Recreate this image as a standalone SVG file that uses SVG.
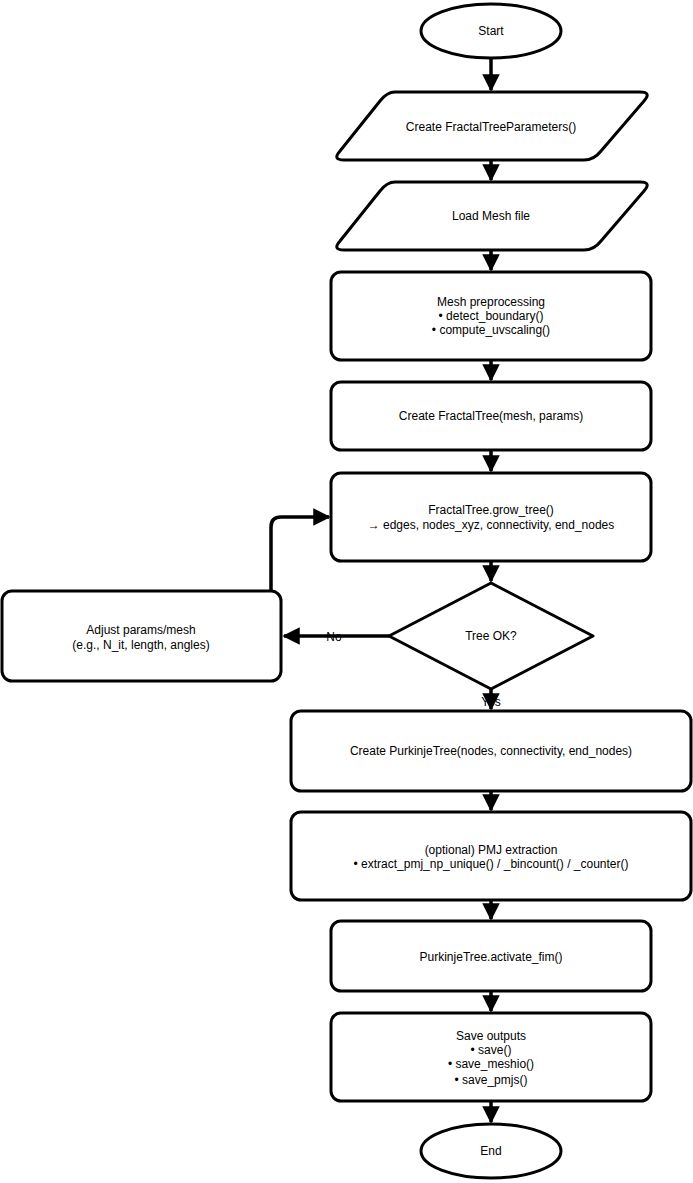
<svg xmlns="http://www.w3.org/2000/svg" width="693" height="1183" viewBox="0 0 693 1183">
<style>
.n{fill:#fff;stroke:#000;stroke-width:3;stroke-linejoin:round}
.t{font-family:"Liberation Sans",Arial,sans-serif;font-size:12px;text-anchor:middle;fill:#000}
.c{fill:none;stroke:#000;stroke-width:3.5}
</style>
<defs><marker id="a" markerWidth="5" markerHeight="5" refX="4.5" refY="2.5" orient="auto" markerUnits="strokeWidth" viewBox="0 0 5 5"><path d="M0,0L5,2.5L0,5z" fill="#000"/></marker></defs>
<rect width="693" height="1183" fill="#fff"/>
<g id="connectors">
<path class="c" d="M491,58V90" marker-end="url(#a)"/>
<path class="c" d="M491,160V180" marker-end="url(#a)"/>
<path class="c" d="M491,250V270" marker-end="url(#a)"/>
<path class="c" d="M491,360V380" marker-end="url(#a)"/>
<path class="c" d="M491,450V471" marker-end="url(#a)"/>
<path class="c" d="M491,561V581" marker-end="url(#a)"/>
<path class="c" d="M389,636H284" marker-end="url(#a)"/>
<path class="c" d="M271,591V527Q271,517 281,517H329" marker-end="url(#a)"/>
<path class="c" d="M491,689V709" marker-end="url(#a)"/>
<path class="c" d="M491,791V810" marker-end="url(#a)"/>
<path class="c" d="M491,900V919" marker-end="url(#a)"/>
<path class="c" d="M491,991V1011" marker-end="url(#a)"/>
<path class="c" d="M491,1101V1122" marker-end="url(#a)"/>
<text class="t" x="334" y="641">No</text>
<text class="t" x="491" y="706">Yes</text>
</g>
<g id="start"><ellipse class="n" cx="491" cy="31" rx="70" ry="27"/><text class="t" x="491" y="35">Start</text></g>
<g id="params"><path class="n" d="M395,92H640Q652,92 644,101L601,151Q594,160 584,160H344Q332,160 340,151L380,101Q387,92 395,92Z"/><text class="t" x="491" y="131">Create FractalTreeParameters()</text></g>
<g id="mesh"><path class="n" d="M395,182H640Q652,182 644,191L601,241Q594,250 584,250H344Q332,250 340,241L380,191Q387,182 395,182Z"/><text class="t" x="491" y="220">Load Mesh file</text></g>
<g id="prep"><rect class="n" x="331" y="272" width="320" height="88" rx="10"/><text class="t" x="491" y="306">Mesh preprocessing</text><text class="t" x="491" y="320">• detect_boundary()</text><text class="t" x="491" y="334">• compute_uvscaling()</text></g>
<g id="create"><rect class="n" x="331" y="382" width="320" height="68" rx="10"/><text class="t" x="491" y="420">Create FractalTree(mesh, params)</text></g>
<g id="grow"><rect class="n" x="331" y="473" width="320" height="88" rx="10"/><text class="t" x="491" y="514">FractalTree.grow_tree()</text><text class="t" x="491" y="529">→ edges, nodes_xyz, connectivity, end_nodes</text></g>
<g id="ok"><path class="n" d="M491,583L593,636L491,689L389,636Z"/><text class="t" x="491" y="640">Tree OK?</text></g>
<g id="adjust"><rect class="n" x="2" y="591" width="279" height="90" rx="10"/><text class="t" x="141" y="634">Adjust params/mesh</text><text class="t" x="141" y="649">(e.g., N_it, length, angles)</text></g>
<g id="purk"><rect class="n" x="291" y="711" width="400" height="80" rx="10"/><text class="t" x="491" y="755">Create PurkinjeTree(nodes, connectivity, end_nodes)</text></g>
<g id="pmj"><rect class="n" x="291" y="812" width="400" height="88" rx="10"/><text class="t" x="491" y="854">(optional) PMJ extraction</text><text class="t" x="491" y="868">• extract_pmj_np_unique() / _bincount() / _counter()</text></g>
<g id="fim"><rect class="n" x="331" y="921" width="320" height="70" rx="10"/><text class="t" x="491" y="961">PurkinjeTree.activate_fim()</text></g>
<g id="save"><rect class="n" x="331" y="1013" width="320" height="88" rx="10"/><text class="t" x="491" y="1040">Save outputs</text><text class="t" x="491" y="1054">• save()</text><text class="t" x="491" y="1068">• save_meshio()</text><text class="t" x="491" y="1084">• save_pmjs()</text></g>
<g id="end"><ellipse class="n" cx="491" cy="1151" rx="70" ry="27"/><text class="t" x="491" y="1155">End</text></g>
</svg>
